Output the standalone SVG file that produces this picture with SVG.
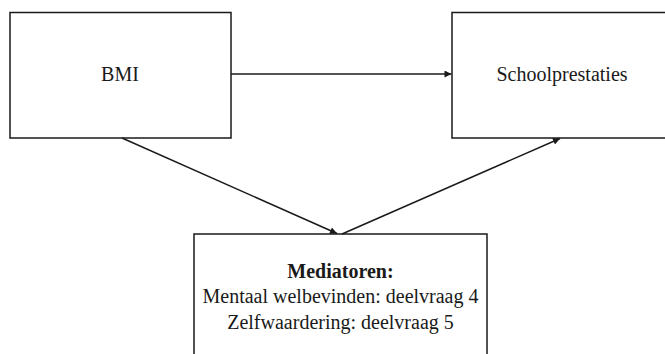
<svg xmlns="http://www.w3.org/2000/svg" width="665" height="354" viewBox="0 0 665 354">
<style>
.box{fill:#fff;stroke:#1a1a1a;stroke-width:1.5}
.lbl{font-family:"Liberation Serif","Times New Roman",serif;font-size:20px;fill:#1a1a1a;text-anchor:middle}
.b{font-weight:bold}
.con{stroke:#1a1a1a;stroke-width:1.5;fill:none;marker-end:url(#ah)}
</style>
<defs>
<marker id="ah" viewBox="0 0 10 10" refX="10" refY="5" markerWidth="8" markerHeight="7" markerUnits="userSpaceOnUse" orient="auto">
<path d="M0,0 L10,5 L0,10 z" fill="#1a1a1a"/>
</marker>
</defs>
<rect width="665" height="354" fill="#fff"/>
<g id="bmi">
<rect class="box" x="10" y="12.5" width="221" height="125.5"/>
<text class="lbl" x="120" y="80.5">BMI</text>
</g>
<g id="schoolprestaties">
<rect class="box" x="452" y="12.5" width="220" height="125.5"/>
<text class="lbl" x="562" y="80.5">Schoolprestaties</text>
</g>
<g id="mediatoren">
<rect class="box" x="194" y="234" width="293" height="130"/>
<text class="lbl b" x="340.5" y="277.5">Mediatoren:</text>
<text class="lbl" x="340.5" y="303">Mentaal welbevinden: deelvraag 4</text>
<text class="lbl" x="340.5" y="329">Zelfwaardering: deelvraag 5</text>
</g>
<g id="connectors">
<line class="con" x1="231" y1="74" x2="451.5" y2="74"/>
<line class="con" x1="122" y1="138" x2="337" y2="233.5"/>
<line class="con" x1="342" y1="234" x2="560" y2="138.5"/>
</g>
</svg>
